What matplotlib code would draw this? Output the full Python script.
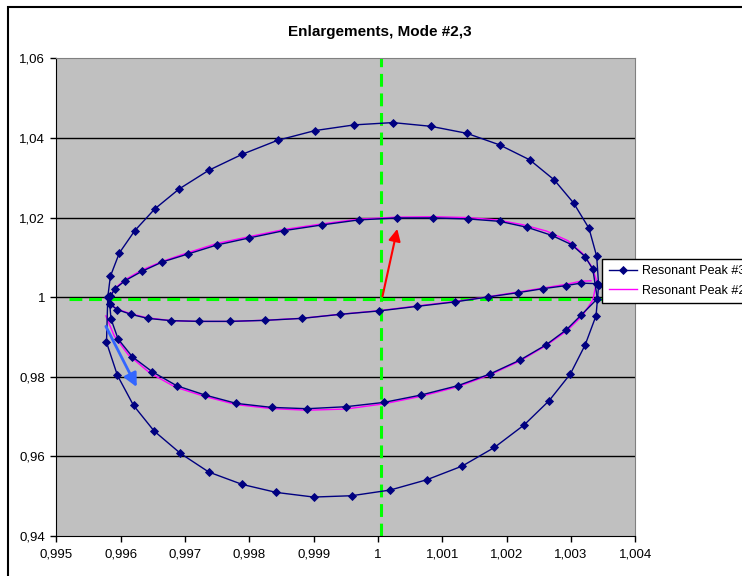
import numpy as np
import matplotlib
matplotlib.use("Agg")
import matplotlib.pyplot as plt
from matplotlib.patches import Rectangle

plt.rcParams['font.family'] = ['Liberation Sans', 'DejaVu Sans']

# Resonant Peak #3 : outer loop
outer_x = [0.99580, 0.99584, 0.99598, 0.99622, 0.99653, 0.99691, 0.99737, 0.99789, 0.99844,
           0.99902, 0.99963, 1.00023, 1.00082, 1.00138, 1.00189, 1.00236, 1.00274, 1.00304,
           1.00328, 1.00340, 1.00343, 1.00339, 1.00322, 1.00299, 1.00266, 1.00227, 1.00181,
           1.00131, 1.00076, 1.00019, 0.99959, 0.99900, 0.99842, 0.99789, 0.99737, 0.99693,
           0.99652, 0.99620, 0.99595, 0.99578, 0.99580]
outer_y = [1.00000, 1.00523, 1.01111, 1.01671, 1.02216, 1.02719, 1.03187, 1.03589, 1.03940,
           1.04184, 1.04327, 1.04385, 1.04292, 1.04116, 1.03825, 1.03448, 1.02945, 1.02367,
           1.01729, 1.01025, 1.00300, 0.99535, 0.98799, 0.98070, 0.97399, 0.96788, 0.96225,
           0.95758, 0.95414, 0.95155, 0.95012, 0.94979, 0.95095, 0.95296, 0.95607, 0.96075,
           0.96638, 0.97281, 0.98035, 0.98864, 1.00000]

# Resonant Peak #3 : middle loop
mid_x = [0.99584, 0.99591, 0.99607, 0.99633, 0.99665, 0.99705, 0.99750, 0.99800, 0.99854,
         0.99913, 0.99970, 1.00029, 1.00086, 1.00140, 1.00189, 1.00232, 1.00270, 1.00301,
         1.00322, 1.00334, 1.00341, 1.00316, 1.00293, 1.00261, 1.00221, 1.00174, 1.00124,
         1.00067, 1.00009, 0.99950, 0.99890, 0.99835, 0.99780, 0.99731, 0.99687, 0.99649,
         0.99618, 0.99596, 0.99585, 0.99583, 0.99584]
mid_y = [1.00020, 1.00206, 1.00415, 1.00648, 1.00885, 1.01086, 1.01312, 1.01488, 1.01671,
         1.01814, 1.01940, 1.01990, 1.01990, 1.01965, 1.01905, 1.01754, 1.01553, 1.01319,
         1.01018, 1.00699, 0.99960, 0.99553, 0.99183, 0.98799, 0.98422, 0.98070, 0.97776,
         0.97542, 0.97356, 0.97248, 0.97198, 0.97231, 0.97331, 0.97542, 0.97776, 0.98128,
         0.98505, 0.98950, 0.99452, 0.99829, 1.00020]

# Resonant Peak #3 : inner (tilted) branch
thin_x = [0.99583, 0.99595, 0.99616, 0.99642, 0.99679, 0.99722, 0.99770, 0.99824, 0.99882,
          0.99941, 1.00001, 1.00061, 1.00119, 1.00171, 1.00218, 1.00257, 1.00292, 1.00315,
          1.00340]
thin_y = [0.99829, 0.99686, 0.99568, 0.99467, 0.99409, 0.99392, 0.99392, 0.99417, 0.99467,
          0.99568, 0.99653, 0.99769, 0.99879, 1.00005, 1.00113, 1.00214, 1.00289, 1.00352,
          1.00339]

# Resonant Peak #2 (no markers)
pk2_a_x = [0.99577, 0.99590, 0.99612, 0.99645, 0.99685, 0.99730, 0.99780, 0.99835, 0.99890,
           0.99950, 1.00009, 1.00067, 1.00124, 1.00174, 1.00221, 1.00261, 1.00294, 1.00318,
           1.00334, 1.00340, 1.00333, 1.00318, 1.00295, 1.00262, 1.00225, 1.00185, 1.00140,
           1.00086, 1.00029, 0.99970, 0.99913, 0.99854, 0.99800, 0.99750, 0.99705, 0.99665,
           0.99633, 0.99607, 0.99591, 0.99584]
pk2_a_y = [0.99530, 0.99030, 0.98550, 0.98100, 0.97740, 0.97510, 0.97300, 0.97200, 0.97160,
           0.97190, 0.97320, 0.97510, 0.97750, 0.98050, 0.98400, 0.98780, 0.99160, 0.99540,
           0.99930, 1.00400, 1.00750, 1.01100, 1.01420, 1.01660, 1.01820, 1.01940, 1.02000,
           1.02020, 1.02010, 1.01960, 1.01840, 1.01700, 1.01520, 1.01350, 1.01120, 1.00900,
           1.00680, 1.00440, 1.00220, 1.00030]
pk2_b_x = [0.99585, 0.99595, 0.99616, 0.99642, 0.99679, 0.99722, 0.99770, 0.99824, 0.99882,
           0.99941, 1.00001, 1.00061, 1.00119, 1.00171, 1.00218, 1.00257, 1.00292, 1.00315,
           1.00331]
pk2_b_y = [0.99800, 0.99700, 0.99580, 0.99480, 0.99410, 0.99390, 0.99390, 0.99420, 0.99470,
           0.99570, 0.99660, 0.99780, 0.99890, 1.00010, 1.00130, 1.00230, 1.00320, 1.00400,
           1.00410]

# reference lines and arrows
x_ref = 1.00005
y_ref = 0.99955
y_ref_span = [0.99519, 1.00362]
red_arrow = [(1.00007, 1.00020), (1.00030, 1.01714)]
blue_arrow = [(0.99577, 0.99266), (0.99625, 0.97743)]

x_ticks = [0.995, 0.996, 0.997, 0.998, 0.999, 1.0, 1.001, 1.002, 1.003, 1.004]
x_labels = ['0,995', '0,996', '0,997', '0,998', '0,999', '1', '1,001', '1,002', '1,003', '1,004']
y_ticks = [0.94, 0.96, 0.98, 1.0, 1.02, 1.04, 1.06]
y_labels = ['0,94', '0,96', '0,98', '1', '1,02', '1,04', '1,06']

fig = plt.figure(figsize=(7.42, 5.76), dpi=100)
ax = fig.add_axes([0.0759, 0.0694, 0.7803, 0.8294])
ax.set_facecolor('#C0C0C0')

# horizontal grid
for yt in y_ticks[1:-1]:
    ax.axhline(yt, color='black', lw=1, zorder=1)

# green dashed reference lines
ax.axvline(x_ref, color='#00FF00', lw=2.2, dashes=(4.2, 2.2), zorder=2)
ax.hlines(y_ref, y_ref_span[0], y_ref_span[1], color='#00FF00', lw=2.2,
          linestyles=(0, (4.2, 2.2)), zorder=2)

# Peak #2
pk2_line, = ax.plot(pk2_a_x, pk2_a_y, color='#FF00FF', lw=1, zorder=3)
ax.plot(pk2_b_x, pk2_b_y, color='#FF00FF', lw=1, zorder=3)

# Peak #3
style = dict(color='#000080', lw=1, marker='D', markersize=4.4, markeredgewidth=0.6, zorder=4)
pk3_line, = ax.plot(outer_x, outer_y, **style)
ax.plot(mid_x, mid_y, **style)
ax.plot(thin_x, thin_y, **style)

# arrows
ax.annotate('', xy=red_arrow[1], xytext=red_arrow[0],
            arrowprops=dict(arrowstyle='-|>', color='#FF0000', lw=1.5, mutation_scale=18,
                            shrinkA=0, shrinkB=0), zorder=5)
ax.annotate('', xy=blue_arrow[1], xytext=blue_arrow[0],
            arrowprops=dict(arrowstyle='-|>', color='#3366FF', lw=2, mutation_scale=20,
                            shrinkA=0, shrinkB=0), zorder=5)

ax.set_xlim(0.995, 1.004)
ax.set_ylim(0.94, 1.06)
ax.set_xticks(x_ticks)
ax.set_xticklabels(x_labels)
ax.set_yticks(y_ticks)
ax.set_yticklabels(y_labels)
ax.tick_params(axis='both', direction='out', length=4, width=1, labelsize=9.5, colors='black')
ax.tick_params(axis='x', pad=5)
ax.tick_params(axis='y', pad=4)

for s in ['top', 'right']:
    ax.spines[s].set_color('#808080')
for s in ['left', 'bottom']:
    ax.spines[s].set_color('black')

fig.text(380 / 742, 1 - 32 / 576, 'Enlargements, Mode #2,3', ha='center', va='center',
         fontsize=11, fontweight='bold')

leg = ax.legend([pk3_line, pk2_line], ['Resonant Peak #3', 'Resonant Peak #2'],
                loc='upper left', bbox_to_anchor=(0.943, 0.58), borderaxespad=0,
                fontsize=9, fancybox=False, framealpha=1, edgecolor='black',
                handlelength=2.3, handletextpad=0.35, labelspacing=0.6, borderpad=0.5)
leg.get_frame().set_linewidth(1)
leg.set_zorder(6)

# chart area border
fig.add_artist(Rectangle((8 / 742, -0.1), 1.2, 1.1 - 7 / 576, transform=fig.transFigure,
                         fill=False, ec='black', lw=1.5))

fig.savefig('out.png', dpi=100)
